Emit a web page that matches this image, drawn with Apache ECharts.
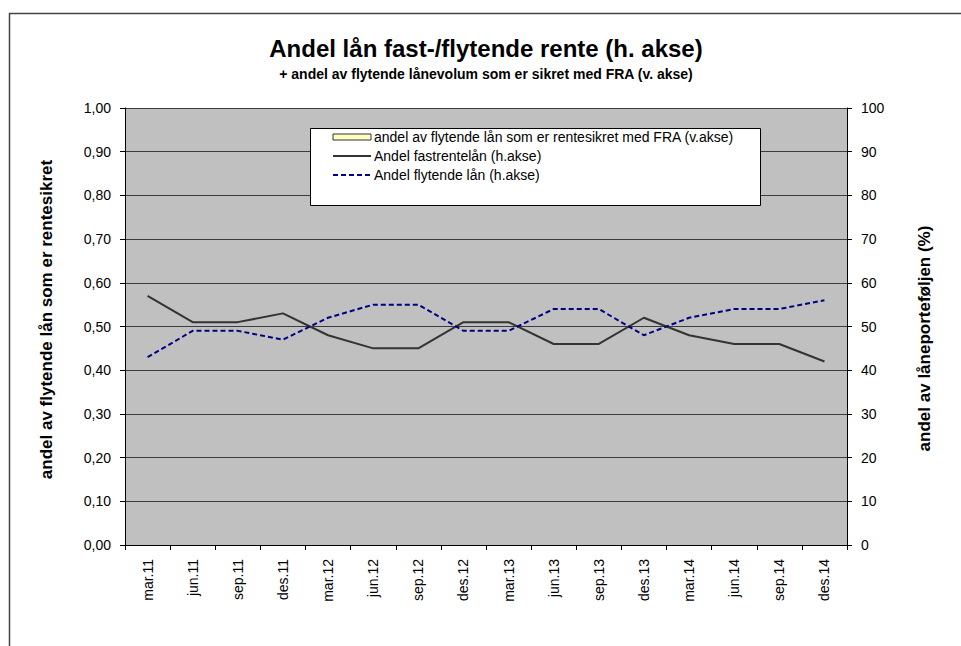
<!DOCTYPE html>
<html>
<head>
<meta charset="utf-8">
<script src="https://cdn.jsdelivr.net/npm/echarts@6/dist/echarts.min.js"></script>
<style>
  html, body { margin: 0; padding: 0; background: #fff; }
  #chart { width: 961px; height: 646px; }
</style>
</head>
<body>
<div id="chart"></div>
<script>
const quarters = [
  "mar.11", "jun.11", "sep.11", "des.11",
  "mar.12", "jun.12", "sep.12", "des.12",
  "mar.13", "jun.13", "sep.13", "des.13",
  "mar.14", "jun.14", "sep.14", "des.14",
];
// left axis series: no values shown in the picture
const fraShare = [
  null, null, null, null, null, null, null, null,
  null, null, null, null, null, null, null, null,
];
const fixedRate = [57, 51, 51, 53, 48, 45, 45, 51, 51, 46, 46, 52, 48, 46, 46, 42];
const floatingRate = [43, 49, 49, 47, 52, 55, 55, 49, 49, 54, 54, 48, 52, 54, 54, 56];

const font = "Arial, 'Liberation Sans', sans-serif";
const chart = echarts.init(document.getElementById("chart"), null, { renderer: "svg" });

chart.setOption({
  animation: false,
  textStyle: { fontFamily: font, color: "#000" },
  title: {
    text: "Andel lån fast-/flytende rente (h. akse)",
    subtext: "+ andel av flytende lånevolum som er sikret med FRA (v. akse)",
    left: 481,
    textAlign: "center",
    top: 31,
    itemGap: 7,
    textStyle: { fontSize: 24, fontWeight: "bold", color: "#000", fontFamily: font },
    subtextStyle: { fontSize: 14, fontWeight: "bold", color: "#000", fontFamily: font },
  },
  graphic: [
    {
      type: "rect",
      left: 7, top: 11,
      shape: { width: 1000, height: 700 },
      style: { fill: "none", stroke: "#444", lineWidth: 1.5 },
      z: 0,
    },
    {
      type: "rect",
      left: 310, top: 128,
      shape: { width: 450, height: 77 },
      style: { fill: "#fff", stroke: "#000", lineWidth: 1 },
      z: 5,
    },
  ],
  legend: {
    orient: "vertical",
    left: 332,
    top: 130,
    itemWidth: 38,
    itemHeight: 6,
    itemGap: 5,
    padding: 0,
    z: 10,
    textStyle: { fontSize: 14, color: "#000", fontFamily: font, padding: [0, 0, 0, -2] },
    data: [
      {
        name: "andel av flytende lån som er rentesikret med FRA (v.akse)",
        icon: "rect",
        itemStyle: { color: "#ffffc0", borderColor: "#333", borderWidth: 1 },
      },
      { name: "Andel fastrentelån (h.akse)", itemStyle: { opacity: 0 } },
      { name: "Andel flytende lån (h.akse)", itemStyle: { opacity: 0 } },
    ],
  },
  grid: { left: 125, right: 114, top: 108, bottom: 101, show: true, backgroundColor: "#c0c0c0", borderWidth: 0 },
  xAxis: {
    type: "category",
    data: quarters,
    boundaryGap: true,
    axisLine: { lineStyle: { color: "#000", width: 1 } },
    axisTick: { show: true, length: 5, lineStyle: { color: "#000" } },
    axisLabel: { rotate: 90, fontSize: 14, color: "#000", margin: 14, interval: 0 },
    splitLine: { show: false },
  },
  yAxis: [
    {
      type: "value",
      min: 0, max: 1, interval: 0.1,
      position: "left",
      name: "andel av flytende lån som er rentesikret",
      nameLocation: "middle",
      nameGap: 70,
      nameRotate: 90,
      nameTextStyle: {
        fontSize: 17, fontWeight: "bold", color: "#000", fontFamily: font,
        padding: [0, 0, 0, 14],
      },
      axisLine: { show: true, lineStyle: { color: "#000" } },
      axisTick: { show: true, length: 5, lineStyle: { color: "#000" } },
      axisLabel: {
        fontSize: 14, color: "#000", margin: 14,
        formatter: (v) => v.toFixed(2).replace(".", ","),
      },
      splitLine: { show: true, lineStyle: { color: "#3c3c3c", width: 1 } },
    },
    {
      type: "value",
      min: 0, max: 100, interval: 10,
      position: "right",
      name: "andel av låneporteføljen (%)",
      nameLocation: "middle",
      nameGap: 69,
      nameRotate: 90,
      nameTextStyle: {
        fontSize: 17, fontWeight: "bold", color: "#000", fontFamily: font,
        padding: [0, 24, 0, 0],
      },
      axisLine: { show: true, lineStyle: { color: "#000" } },
      axisTick: { show: true, length: 5, lineStyle: { color: "#000" } },
      axisLabel: { fontSize: 14, color: "#000", margin: 14 },
      splitLine: { show: false },
    },
  ],
  series: [
    {
      name: "andel av flytende lån som er rentesikret med FRA (v.akse)",
      type: "bar",
      yAxisIndex: 0,
      data: fraShare,
      itemStyle: { color: "#ffffc0", borderColor: "#333", borderWidth: 1 },
    },
    {
      name: "Andel fastrentelån (h.akse)",
      type: "line",
      yAxisIndex: 1,
      data: fixedRate,
      symbol: "none",
      lineStyle: { color: "#333333", width: 2 },
      itemStyle: { color: "#333333" },
      z: 3,
    },
    {
      name: "Andel flytende lån (h.akse)",
      type: "line",
      yAxisIndex: 1,
      data: floatingRate,
      symbol: "none",
      lineStyle: { color: "#000080", width: 2, type: [5, 3] },
      itemStyle: { color: "#000080" },
      z: 4,
    },
  ],
});
</script>
</body>
</html>
